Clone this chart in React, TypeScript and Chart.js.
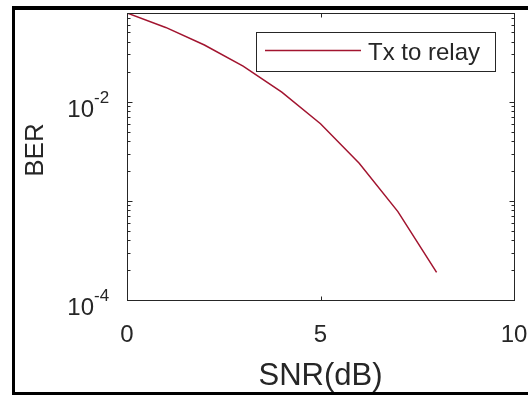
import React, { useEffect, useRef } from "react";
import { Chart, registerables } from "chart.js";

Chart.register(...registerables);

// ---- data ----
const snrDb = [0, 1, 2, 3, 4, 5, 6, 7, 8];
const berTxToRelay = [0.0786, 0.0562, 0.0374, 0.0229, 0.0125, 0.006, 0.0024, 0.00078, 0.00019];
const seriesLabel = "Tx to relay";
const xTickValues = [0, 5, 10];
const yTickValues = [1e-4, 1e-2];
const yTickExponents = ["-4", "-2"];
const xTitle = "SNR(dB)";
const yTitle = "BER";

const FONT = "'Liberation Sans', Arial, Helvetica, sans-serif";
const AX = "#262626";
const LINE = "#A2142F";

const drawPlugin = {
  id: "matlabStyle",
  afterDraw(chart: any) {
    const { ctx, chartArea: a, scales } = chart;
    const x = scales.x;
    const y = scales.y;
    const L = Math.round(a.left) + 0.5;
    const R = Math.round(a.right) + 0.5;
    const T = Math.round(a.top) + 0.5;
    const B = Math.round(a.bottom) + 0.5;
    ctx.save();
    ctx.strokeStyle = AX;
    ctx.lineWidth = 1;
    ctx.strokeRect(L, T, R - L, B - T);

    // y ticks (major at decades, minor between)
    ctx.beginPath();
    for (let k = -4; k <= -1; k++) {
      for (let m = 1; m <= 9; m++) {
        const v = m * Math.pow(10, k);
        if (v < y.min * 0.999 || v > y.max * 1.001) continue;
        const py = Math.round(y.getPixelForValue(v)) + 0.5;
        const len = m === 1 ? 5 : 3;
        ctx.moveTo(L, py);
        ctx.lineTo(L + len, py);
        ctx.moveTo(R, py);
        ctx.lineTo(R - len, py);
      }
    }
    // x ticks
    xTickValues.forEach((v) => {
      const px = Math.round(x.getPixelForValue(v)) + 0.5;
      ctx.moveTo(px, B);
      ctx.lineTo(px, B - 4);
      ctx.moveTo(px, T);
      ctx.lineTo(px, T + 4);
    });
    ctx.stroke();

    ctx.fillStyle = AX;
    // x tick labels
    ctx.font = `24px ${FONT}`;
    ctx.textAlign = "center";
    ctx.textBaseline = "alphabetic";
    xTickValues.forEach((v) => {
      ctx.fillText(String(v), x.getPixelForValue(v), a.bottom + 42);
    });
    // y tick labels with superscripts
    yTickValues.forEach((v, i) => {
      const py = y.getPixelForValue(v);
      ctx.font = `24px ${FONT}`;
      ctx.textAlign = "right";
      ctx.fillText("10", 94, py + 15);
      ctx.font = `17px ${FONT}`;
      ctx.textAlign = "left";
      ctx.fillText(yTickExponents[i], 94, py + 1);
    });

    // axis titles
    ctx.font = `31px ${FONT}`;
    ctx.textAlign = "center";
    ctx.fillText(xTitle, (a.left + a.right) / 2, 385);
    ctx.save();
    ctx.translate(43, 150);
    ctx.rotate(-Math.PI / 2);
    ctx.font = `26px ${FONT}`;
    ctx.fillText(yTitle, 0, 0);
    ctx.restore();

    // legend
    ctx.fillStyle = "#ffffff";
    ctx.fillRect(256.5, 32.5, 239, 39);
    ctx.strokeStyle = AX;
    ctx.strokeRect(256.5, 32.5, 239, 39);
    ctx.strokeStyle = LINE;
    ctx.lineWidth = 1.5;
    ctx.beginPath();
    ctx.moveTo(265, 50.5);
    ctx.lineTo(361, 50.5);
    ctx.stroke();
    ctx.fillStyle = AX;
    ctx.font = `24px ${FONT}`;
    ctx.textAlign = "left";
    ctx.fillText(chart.data.datasets[0].label, 368, 60);

    // outer black frame
    ctx.fillStyle = "#000000";
    ctx.fillRect(12, 6, 528 - 12, 4);
    ctx.fillRect(12, 6, 3, 389);
    ctx.fillRect(12, 392, 528 - 12, 3);
    ctx.restore();
  },
};

export default function App() {
  const ref = useRef<HTMLCanvasElement>(null);
  useEffect(() => {
    const chart = new Chart(ref.current!, {
      type: "line",
      data: {
        datasets: [
          {
            label: seriesLabel,
            data: snrDb.map((s, i) => ({ x: s, y: berTxToRelay[i] })),
            borderColor: LINE,
            borderWidth: 1.5,
            pointRadius: 0,
            tension: 0,
            fill: false,
          },
        ],
      },
      options: {
        animation: false,
        responsive: false,
        devicePixelRatio: 1,
        layout: { padding: { left: 0, top: 13, right: 14, bottom: 0 } },
        plugins: { legend: { display: false }, tooltip: { enabled: false } },
        scales: {
          x: {
            type: "linear",
            min: 0,
            max: 10,
            ticks: { display: false },
            grid: { display: false },
            border: { display: false },
            afterFit: (s: any) => {
              s.height = 96;
            },
          },
          y: {
            type: "logarithmic",
            min: 1e-4,
            max: berTxToRelay[0],
            ticks: { display: false },
            grid: { display: false },
            border: { display: false },
            afterFit: (s: any) => {
              s.width = 127;
            },
          },
        },
      },
      plugins: [drawPlugin],
    });
    return () => chart.destroy();
  }, []);
  return (
    <div style={{ position: "absolute", left: 0, top: 0, width: 528, height: 396, background: "#fff" }}>
      <canvas ref={ref} width={528} height={396} style={{ display: "block", width: 528, height: 396 }} />
    </div>
  );
}
